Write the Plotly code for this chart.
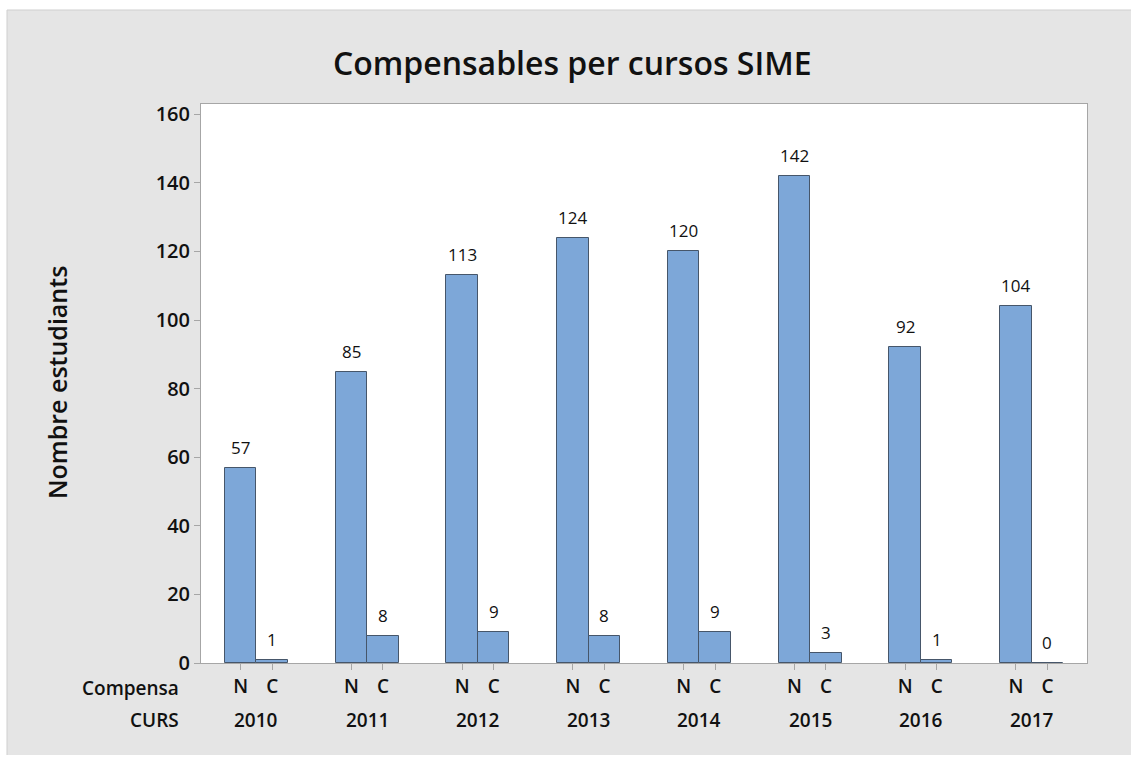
import plotly.graph_objects as go

years = ["2010", "2011", "2012", "2013", "2014", "2015", "2016", "2017"]
compensa_labels = ["N", "C"]
valors_N = [57, 85, 113, 124, 120, 142, 92, 104]
valors_C = [1, 8, 9, 8, 9, 3, 1, 0]

bar_w = 0.285
idx = list(range(len(years)))
xN = [i - bar_w / 2 for i in idx]
xC = [i + bar_w / 2 for i in idx]

FONT = "Open Sans"
BAR = "#7DA7D8"
EDGE = "#46566A"
AX = "#A6A6A6"
TXT = "#111111"

fig = go.Figure()
for xs, vals in [(xN, valors_N), (xC, valors_C)]:
    fig.add_trace(go.Bar(
        x=xs, y=vals, width=bar_w,
        marker=dict(color=BAR, line=dict(color=EDGE, width=1)),
        showlegend=False, hoverinfo="skip",
    ))

annotations = []
for xs, vals in [(xN, valors_N), (xC, valors_C)]:
    for x, v in zip(xs, vals):
        annotations.append(dict(
            x=x, y=v, xref="x", yref="y", text=str(v), showarrow=False,
            yanchor="bottom", yshift=7, font=dict(family=FONT, size=17, color=TXT),
        ))
for i, yr in zip(idx, years):
    annotations.append(dict(
        x=i, y=0, xref="x", yref="paper", text=yr, showarrow=False,
        yanchor="middle", yshift=-57, font=dict(family=FONT, size=19, color=TXT, weight=600),
    ))
annotations.append(dict(
    x=-0.5, y=0, xref="x", yref="paper", text="Compensa", showarrow=False,
    xanchor="right", yanchor="middle", xshift=-20, yshift=-25,
    font=dict(family=FONT, size=19, color=TXT, weight=600),
))
annotations.append(dict(
    x=-0.5, y=0, xref="x", yref="paper", text="CURS", showarrow=False,
    xanchor="right", yanchor="middle", xshift=-20, yshift=-57,
    font=dict(family=FONT, size=19, color=TXT, weight=600),
))
annotations.append(dict(
    x=-0.1625, y=0.501, xref="paper", yref="paper", text="Nombre estudiants",
    showarrow=False, textangle=-90, xanchor="center", yanchor="middle",
    font=dict(family=FONT, size=25, color=TXT, weight=600),
))

tickvals = []
ticktext = []
for i in idx:
    tickvals += [xN[i], xC[i]]
    ticktext += compensa_labels

fig.update_layout(
    width=1131, height=758,
    margin=dict(l=201, r=44, t=104, b=95),
    paper_bgcolor="#E5E5E5", plot_bgcolor="white",
    title=dict(text="Compensables per cursos SIME", x=0.506, xref="container",
               y=1 - 64 / 758, yref="container", xanchor="center", yanchor="middle",
               font=dict(family=FONT, size=32, color=TXT, weight=600)),
    annotations=annotations,
    bargap=0,
    shapes=[
        dict(type="rect", xref="paper", yref="paper", x0=-0.3, x1=1.2,
             y0=(663 - 10) / 559, y1=1.3, fillcolor="white", line=dict(width=0), layer="below"),
        dict(type="rect", xref="paper", yref="paper", x0=(0 - 201) / 886, x1=(7 - 201) / 886,
             y0=-0.3, y1=1.3, fillcolor="white", line=dict(width=0), layer="below"),
        dict(type="rect", xref="paper", yref="paper", x0=-0.3, x1=1.2,
             y0=(663 - 758) / 559, y1=(663 - 755) / 559, fillcolor="white", line=dict(width=0), layer="below"),
        dict(type="line", xref="paper", yref="paper", x0=(7 - 201) / 886, x1=1.2,
             y0=(663 - 10) / 559, y1=(663 - 10) / 559, line=dict(color="#CFCFCF", width=1), layer="below"),
        dict(type="line", xref="paper", yref="paper", x0=(7 - 201) / 886, x1=(7 - 201) / 886,
             y0=(663 - 755) / 559, y1=(663 - 10) / 559, line=dict(color="#CFCFCF", width=1), layer="below"),
    ],
)
fig.update_xaxes(
    range=[-0.5, 7.5], tickvals=tickvals, ticktext=ticktext,
    ticks="outside", ticklen=6, tickcolor=AX, tickwidth=1,
    showline=True, linecolor=AX, linewidth=1, mirror=True, showgrid=False, zeroline=False,
    tickfont=dict(family=FONT, size=19, color=TXT, weight=600),
)
fig.update_yaxes(
    range=[0, 163], tickvals=[0, 20, 40, 60, 80, 100, 120, 140, 160],
    ticks="outside", ticklen=6, tickcolor=AX, tickwidth=1,
    showline=True, linecolor=AX, linewidth=1, mirror=True, showgrid=False, zeroline=False,
    tickfont=dict(family=FONT, size=20, color=TXT, weight=600),
)

fig.write_html("out.html", config={"displayModeBar": False},
               post_script="document.body.style.margin='0';")
